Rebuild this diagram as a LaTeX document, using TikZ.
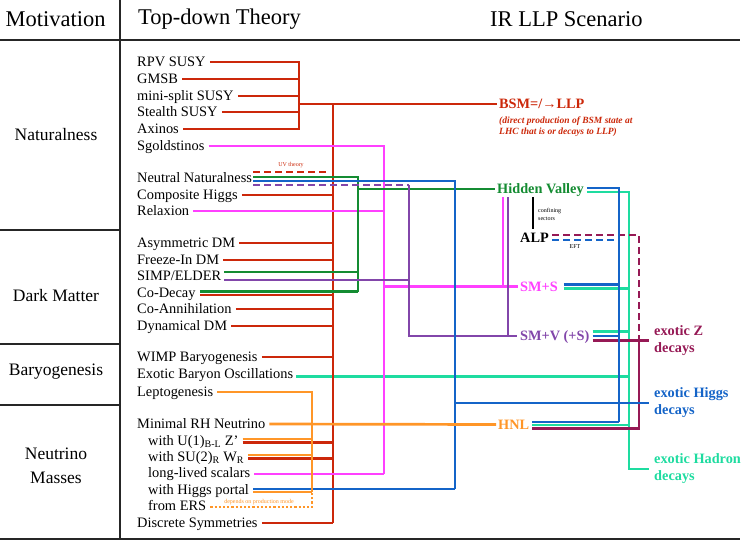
\documentclass[tikz,border=0pt]{standalone}
\usepackage{fontspec}
\setmainfont{Liberation Serif}
\newcommand{\fsz}[1]{\fontsize{#1}{#1}\selectfont}
\definecolor{cred}{RGB}{204,40,10}
\definecolor{cmag}{RGB}{255,64,255}
\definecolor{cgreen}{RGB}{20,140,50}
\definecolor{cblue}{RGB}{20,100,200}
\definecolor{cpurple}{RGB}{130,70,170}
\definecolor{corange}{RGB}{255,150,40}
\definecolor{cteal}{RGB}{30,220,160}
\definecolor{cmaroon}{RGB}{150,25,85}
\begin{document}
\begin{tikzpicture}[x=1pt,y=-1pt,
  th/.style={anchor=west,inner sep=0pt,text height=11pt,text depth=1.5pt,font=\fsz{14.4}},
  rl/.style={anchor=west,inner sep=0pt,text height=10.5pt,text depth=1pt,font=\fsz{14.3}\bfseries},
  rltwo/.style={anchor=west,inner sep=0pt,align=left,font=\fontsize{14.3}{17}\selectfont\bfseries},
  mot/.style={inner sep=0pt,align=center,font=\fontsize{17.5}{24}\selectfont},
  hd/.style={inner sep=0pt,font=\fsz{22.5}},
  frame/.style={line width=1.5pt,draw=black!85},
  cl/.style={line width=2.7pt},
  dsh/.style={line width=2.7pt,dash pattern=on 7pt off 4pt},
  dts/.style={line width=2.7pt,dash pattern=on 2.2pt off 2pt},
  tinytxt/.style={inner sep=0pt,font=\fontsize{6}{8}\selectfont},
]
\fill[white] (0,0) rectangle (748,547);
\useasboundingbox (0,0) rectangle (748,547);

% ---------- frame ----------
\draw[frame] (0,40) -- (740,40);
\draw[frame] (120,0) -- (120,539);
\draw[frame] (0,539) -- (740,539);
\draw[frame] (0,230) -- (120,230);
\draw[frame] (0,344) -- (120,344);
\draw[frame] (0,405) -- (120,405);

% ---------- headers ----------
\node[hd] (hmot) at (55.5,19) {Motivation};
\node[hd,anchor=west] (htd) at (138,19) {Top-down Theory};
\node[hd,anchor=west] (hir) at (490,19) {IR LLP Scenario};

% ---------- motivations ----------
\node[mot] (mnat) at (56,135) {Naturalness};
\node[mot] (mdm) at (56,296) {Dark Matter};
\node[mot] (mbar) at (56,372) {Baryogenesis};
\node[mot] (mnu) at (56,466) {Neutrino\\Masses};

% ---------- theories ----------
\node[th] (rpv) at (137,62) {RPV SUSY};
\node[th] (gmsb) at (137,79) {GMSB};
\node[th] (mini) at (137,96) {mini-split SUSY};
\node[th] (stealth) at (137,112) {Stealth SUSY};
\node[th] (axinos) at (137,129) {Axinos};
\node[th] (sgold) at (137,146) {Sgoldstinos};
\node[th] (nn) at (137,178) {Neutral Naturalness};
\node[th] (ch) at (137,195) {Composite Higgs};
\node[th] (relax) at (137,211) {Relaxion};
\node[th] (asym) at (137,243) {Asymmetric DM};
\node[th] (freeze) at (137,260) {Freeze-In DM};
\node[th] (simp) at (137,276) {SIMP/ELDER};
\node[th] (codec) at (137,293) {Co-Decay};
\node[th] (coann) at (137,309) {Co-Annihilation};
\node[th] (dyn) at (137,326) {Dynamical DM};
\node[th] (wimp) at (137,357) {WIMP Baryogenesis};
\node[th] (ebo) at (137,374) {Exotic Baryon Oscillations};
\node[th] (lepto) at (137,392) {Leptogenesis};
\node[th] (mrh) at (137,424) {Minimal RH Neutrino};
\node[th] (u1) at (148,441) {with U(1)\textsubscript{B-L} Z’};
\node[th] (su2) at (148,457) {with SU(2)\textsubscript{R} W\textsubscript{R}};
\node[th] (lls) at (148,473) {long-lived scalars};
\node[th] (hp) at (148,490) {with Higgs portal};
\node[th] (ers) at (148,506) {from ERS};
\node[th] (disc) at (137,523) {Discrete Symmetries};

% ---------- IR scenarios ----------
\node[rl,text=cred] (bsm) at (499,104) {BSM=/→LLP};
\node[anchor=north west,inner sep=0pt,align=left,text=cred,font=\fontsize{9.5}{10.3}\selectfont\bfseries\itshape] (bsmsub) at (499,117) {(direct production of BSM state at\\LHC that is or decays to LLP)};
\node[rl,text=cgreen] (hv) at (497,189) {Hidden Valley};
\node[rl,text=black] (alp) at (520,238) {ALP};
\node[rl,text=cmag] (sms) at (520,286.5) {SM+S};
\node[rl,text=cpurple] (smv) at (520,336) {SM+V (+S)};
\node[rl,text=corange] (hnl) at (498,424.5) {HNL};
\node[rltwo,text=cmaroon] (ez) at (654,340.5) {exotic Z\\decays};
\node[rltwo,text=cblue] (ehiggs) at (654,403) {exotic Higgs\\decays};
\node[rltwo,text=cteal] (ehad) at (654,469) {exotic Hadron\\decays};

% small labels
\node[tinytxt,text=cred] (uvl) at (291,165) {UV theory};
\node[tinytxt,anchor=west,align=left] (conf) at (538,214) {confining\\sectors};
\node[tinytxt] (eft) at (575,247) {EFT};
\node[tinytxt,text=corange] (dep) at (259,502) {depends on production mode};

% ---------- bus coordinates ----------
\coordinate (sj) at (299,104);
\coordinate (rtop) at (333,104);
\coordinate (rbot) at (333,523);
\coordinate (gbot) at (358,291.5);
\coordinate (bbot) at (455,489);
\coordinate (ptop) at (409,185);
\coordinate (pbot) at (409,336);
\coordinate (mbot) at (384,474);
\coordinate (obot) at (312,492);
\coordinate (b2bot) at (619,422);
\coordinate (tbot) at (629,469);
\coordinate (mzj) at (639,340.5);
\coordinate (hvm) at (503,197);
\coordinate (hvp) at (508,197);
\coordinate (hvb) at (533,197);

% ---------- teal ----------
\begin{scope}[cl,draw=cteal]
\draw ([xshift=3pt,yshift=-3pt]hv.east) -| (tbot) -- ([xshift=-5pt]ehad.west);
\draw ([xshift=3pt,yshift=-2.5pt]ebo.east) -| (tbot);
\draw ([xshift=6pt,yshift=-2pt]sms.east) -| (tbot);
\draw ([xshift=3pt,yshift=4.5pt]smv.east) -| (tbot);
\draw ([xshift=3pt,yshift=-0.5pt]hnl.east) -| (tbot);
\end{scope}

% ---------- maroon ----------
\draw[dsh,draw=cmaroon] ([xshift=3pt,yshift=3pt]alp.east) -| (mzj);
\begin{scope}[cl,draw=cmaroon]
\draw ([xshift=3pt,yshift=-4.5pt]smv.east) -- ([xshift=-5pt]ez.west);
\draw ([xshift=3pt,yshift=-4pt]hnl.east) -| (mzj);
\end{scope}

% ---------- red ----------
\begin{scope}[cl,draw=cred]
\draw ([xshift=4pt]rpv.east) -| (sj);
\draw ([xshift=4pt]gmsb.east) -| (sj);
\draw ([xshift=4pt]mini.east) -| (sj);
\draw ([xshift=4pt]stealth.east) -| (sj);
\draw ([xshift=4pt]axinos.east) -| (sj);
\draw (sj) -- ([xshift=-2pt]bsm.west);
\draw (rtop) -- (rbot);
\draw ([xshift=4pt]ch.east) -| (rbot);
\draw ([xshift=4pt]asym.east) -| (rbot);
\draw ([xshift=4pt]freeze.east) -| (rbot);
\draw ([xshift=4pt,yshift=-2pt]codec.east) -| (rbot);
\draw ([xshift=4pt]coann.east) -| (rbot);
\draw ([xshift=4pt]dyn.east) -| (rbot);
\draw ([xshift=4pt]wimp.east) -| (rbot);
\draw ([xshift=4pt,yshift=-1.5pt]u1.east) -| (rbot);
\draw ([xshift=4pt,yshift=-1.5pt]su2.east) -| (rbot);
\draw ([xshift=4pt]disc.east) -- (rbot);
\end{scope}
\draw[dsh,draw=cred] ([xshift=1pt,yshift=6pt]nn.east) -- ([xshift=-4pt,yshift=6pt]nn.east -| rtop);

% ---------- magenta ----------
\begin{scope}[cl,draw=cmag]
\draw ([xshift=4pt]sgold.east) -| (mbot);
\draw ([xshift=4pt]relax.east) -| (mbot);
\draw ([xshift=4pt,yshift=-1pt]lls.east) -| (mbot);
\draw (sms.west -| mbot) -- ([xshift=-2pt]sms.west);
\draw (hvm) -- (hvm |- sms.west);
\end{scope}

% ---------- green ----------
\begin{scope}[cl,draw=cgreen]
\draw ([xshift=1pt,yshift=1pt]nn.east) -| (gbot);
\draw ([xshift=3pt,yshift=4pt]simp.east) -| (gbot);
\draw ([xshift=4pt,yshift=1.5pt]codec.east) -| (gbot);
\draw (hv.west -| gbot) -- ([xshift=-2pt]hv.west);
\end{scope}

% ---------- purple ----------
\draw[dsh,draw=cpurple] ([xshift=1pt,yshift=-7pt]nn.east) -- (ptop);
\begin{scope}[cl,draw=cpurple]
\draw (ptop) -- (pbot) -- ([xshift=-3pt]smv.west);
\draw ([xshift=3pt,yshift=-4pt]simp.east) -| (pbot);
\draw (hvp) |- (pbot);
\end{scope}

% ---------- blue ----------
\begin{scope}[cl,draw=cblue]
\draw ([xshift=1pt,yshift=-3pt]nn.east) -| (bbot);
\draw ([xshift=4pt,yshift=1pt]hp.east) -| (bbot);
\draw (ehiggs.west -| bbot) -- ([xshift=-5pt]ehiggs.west);
\draw ([xshift=3pt,yshift=1pt]hv.east) -| (b2bot);
\draw ([xshift=6pt,yshift=2pt]sms.east) -| (b2bot);
\draw ([xshift=3pt]smv.east) -| (b2bot);
\draw ([xshift=3pt,yshift=2.5pt]hnl.east) -| (b2bot);
\end{scope}
\draw[dsh,draw=cblue] ([xshift=3pt,yshift=-2pt]alp.east) -| (b2bot);

% ---------- orange ----------
\begin{scope}[cl,draw=corange]
\draw ([xshift=4pt]lepto.east) -| (obot);
\draw ([xshift=4pt,yshift=2pt]u1.east) -| (obot);
\draw ([xshift=4pt,yshift=2pt]su2.east) -| (obot);
\draw ([xshift=4pt,yshift=-2pt]hp.east) -| (obot);
\draw ([xshift=4pt]mrh.east) -- ([xshift=-2pt]hnl.west);
\end{scope}
\draw[dts,draw=corange] ([xshift=4pt,yshift=-1pt]ers.east) -| (obot);

% ---------- black ----------
\draw[line width=2.2pt,draw=black,shorten >=3pt] (hvb) -- (hvb |- alp.north);
\end{tikzpicture}
\end{document}
